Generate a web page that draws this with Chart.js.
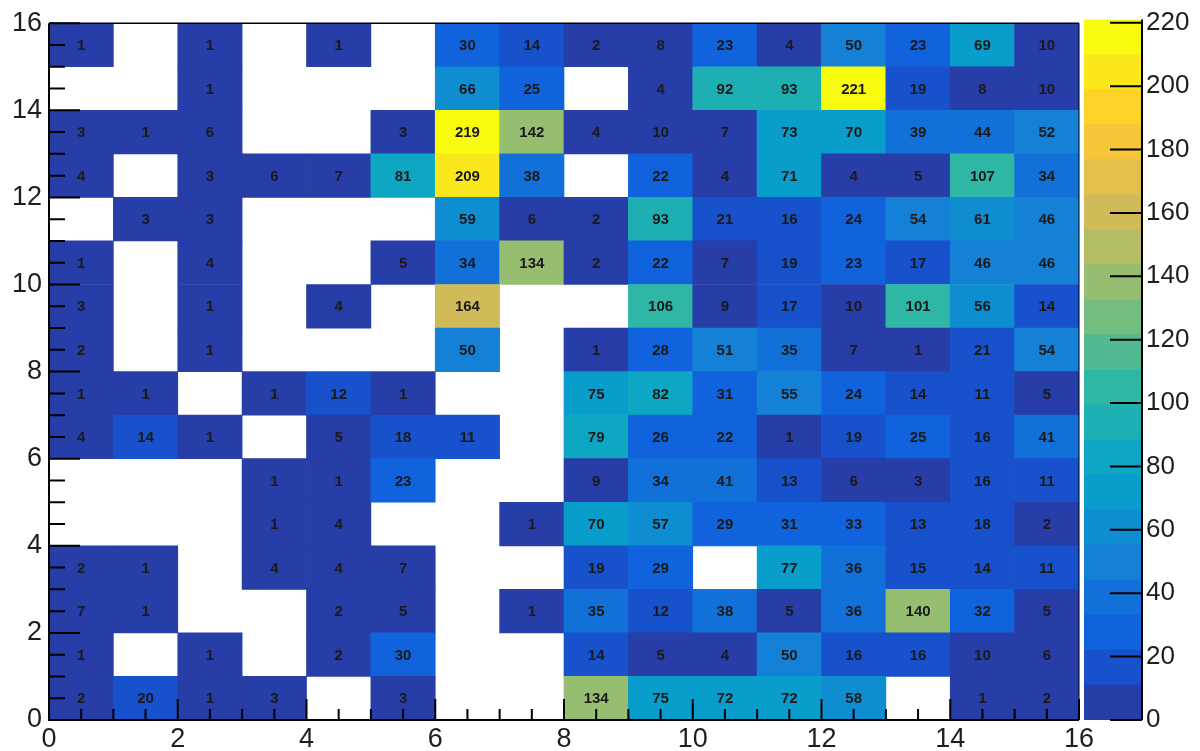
<!DOCTYPE html>
<html>
<head>
<meta charset="utf-8">
<script src="https://cdn.jsdelivr.net/npm/chart.js@4.4.1/dist/chart.umd.min.js"></script>
<style>
  html, body { margin: 0; padding: 0; background: #fff; }
  #main { position: absolute; left: 0; top: 0; }
  #palette { position: absolute; left: 1080px; top: 0; }
</style>
</head>
<body>
<canvas id="main" width="1200" height="751"></canvas>
<canvas id="palette" width="120" height="751"></canvas>
<script>
// bin contents of the 16x16 histogram, one array per row (rowN = y in [N, N+1)), null = empty bin
const row15 = [1, null, 1, null, 1, null, 30, 14, 2, 8, 23, 4, 50, 23, 69, 10];
const row14 = [null, null, 1, null, null, null, 66, 25, null, 4, 92, 93, 221, 19, 8, 10];
const row13 = [3, 1, 6, null, null, 3, 219, 142, 4, 10, 7, 73, 70, 39, 44, 52];
const row12 = [4, null, 3, 6, 7, 81, 209, 38, null, 22, 4, 71, 4, 5, 107, 34];
const row11 = [null, 3, 3, null, null, null, 59, 6, 2, 93, 21, 16, 24, 54, 61, 46];
const row10 = [1, null, 4, null, null, 5, 34, 134, 2, 22, 7, 19, 23, 17, 46, 46];
const row9  = [3, null, 1, null, 4, null, 164, null, null, 106, 9, 17, 10, 101, 56, 14];
const row8  = [2, null, 1, null, null, null, 50, null, 1, 28, 51, 35, 7, 1, 21, 54];
const row7  = [1, 1, null, 1, 12, 1, null, null, 75, 82, 31, 55, 24, 14, 11, 5];
const row6  = [4, 14, 1, null, 5, 18, 11, null, 79, 26, 22, 1, 19, 25, 16, 41];
const row5  = [null, null, null, 1, 1, 23, null, null, 9, 34, 41, 13, 6, 3, 16, 11];
const row4  = [null, null, null, 1, 4, null, null, 1, 70, 57, 29, 31, 33, 13, 18, 2];
const row3  = [2, 1, null, 4, 4, 7, null, null, 19, 29, null, 77, 36, 15, 14, 11];
const row2  = [7, 1, null, null, 2, 5, null, 1, 35, 12, 38, 5, 36, 140, 32, 5];
const row1  = [1, null, 1, null, 2, 30, null, null, 14, 5, 4, 50, 16, 16, 10, 6];
const row0  = [2, 20, 1, 3, null, 3, null, null, 134, 75, 72, 72, 58, null, 1, 2];
const rows = [row0, row1, row2, row3, row4, row5, row6, row7, row8, row9, row10, row11, row12, row13, row14, row15];

const xTicks = [0, 2, 4, 6, 8, 10, 12, 14, 16];
const yTicks = [0, 2, 4, 6, 8, 10, 12, 14, 16];
const zTicks = [0, 20, 40, 60, 80, 100, 120, 140, 160, 180, 200, 220];
const zMax = 221;
const nContours = 20;

// ROOT kBird palette
const birdStops = [0.0000, 0.1250, 0.2500, 0.3750, 0.5000, 0.6250, 0.7500, 0.8750, 1.0000];
const birdR = [0.2082, 0.0592, 0.0780, 0.0232, 0.1802, 0.5301, 0.8186, 0.9956, 0.9764];
const birdG = [0.1664, 0.3599, 0.5041, 0.6419, 0.7178, 0.7492, 0.7328, 0.7862, 0.9832];
const birdB = [0.5293, 0.8684, 0.8385, 0.7914, 0.6425, 0.4662, 0.3499, 0.1968, 0.0539];

function bird(f) {
  let k = 0;
  while (k < birdStops.length - 2 && f > birdStops[k + 1]) k++;
  const t = (f - birdStops[k]) / (birdStops[k + 1] - birdStops[k]);
  const c = (arr) => Math.round(255 * (arr[k] + (arr[k + 1] - arr[k]) * t));
  return `rgb(${c(birdR)},${c(birdG)},${c(birdB)})`;
}
function levelColor(level) {
  const idx = Math.min(254, Math.floor((level + 0.99) * 255 / nContours));
  return bird(idx / 254);
}
function binColor(v) {
  const level = Math.min(nContours - 1, Math.floor(0.01 + v * nContours / zMax));
  return levelColor(level);
}

Chart.defaults.font.family = '"Liberation Sans", Arial, Helvetica, sans-serif';
Chart.defaults.color = '#1e1e1e';

const cellSets = rows.map((vals, r) => {
  const pts = [];
  vals.forEach((v, c) => {
    if (v !== null) pts.push({ x: c + 0.5, y: [r, r + 1], v: v });
  });
  return {
    data: pts,
    backgroundColor: pts.map(p => binColor(p.v)),
    borderWidth: 0,
    grouped: false,
    barPercentage: 1,
    categoryPercentage: 1
  };
});

const binText = {
  id: 'binText',
  afterDatasetsDraw(chart) {
    const { ctx, scales: { x, y } } = chart;
    ctx.save();
    ctx.font = 'bold 15px "Liberation Sans", Arial, sans-serif';
    ctx.fillStyle = '#1a1a1a';
    ctx.textAlign = 'center';
    ctx.textBaseline = 'middle';
    rows.forEach((vals, r) => vals.forEach((v, c) => {
      if (v === null) return;
      ctx.fillText(String(v), x.getPixelForValue(c + 0.5), y.getPixelForValue(r + 0.5) + 1);
    }));
    ctx.restore();
  }
};

// ROOT style frame: ticks pointing inwards, secondary ticks every 0.5
const rootFrame = {
  id: 'rootFrame',
  afterDraw(chart) {
    const { ctx, chartArea: a, scales: { x, y } } = chart;
    ctx.save();
    ctx.strokeStyle = '#000';
    ctx.lineWidth = 2;
    ctx.beginPath();
    for (let v = 0; v <= 16; v += 0.5) {
      const major = v % 2 === 0;
      const px = x.getPixelForValue(v);
      ctx.moveTo(px, a.bottom);
      ctx.lineTo(px, a.bottom - (major ? 21 : 11));
      const py = y.getPixelForValue(v);
      ctx.moveTo(a.left, py);
      ctx.lineTo(a.left + (major ? 31 : 16), py);
    }
    ctx.stroke();
    ctx.beginPath();
    ctx.moveTo(a.left, a.top);
    ctx.lineTo(a.left, a.bottom);
    ctx.lineTo(a.right, a.bottom);
    ctx.stroke();
    ctx.lineWidth = 1.5;
    ctx.beginPath();
    ctx.moveTo(a.left, a.top);
    ctx.lineTo(a.right, a.top);
    ctx.stroke();
    ctx.lineWidth = 1;
    ctx.beginPath();
    ctx.moveTo(a.right, a.top);
    ctx.lineTo(a.right, a.bottom);
    ctx.stroke();
    ctx.restore();
  }
};

new Chart(document.getElementById('main'), {
  type: 'bar',
  data: { datasets: cellSets },
  options: {
    responsive: false,
    animation: false,
    events: [],
    layout: { padding: { top: 17, right: 121, left: 0, bottom: 0 } },
    plugins: { legend: { display: false }, tooltip: { enabled: false } },
    scales: {
      x: {
        type: 'linear', min: 0, max: 16, offset: false,
        grid: { display: false, drawTicks: false },
        border: { display: false },
        ticks: { padding: 3, font: { size: 27 }, maxRotation: 0, autoSkip: false },
        afterBuildTicks: s => { s.ticks = xTicks.map(v => ({ value: v })); },
        afterFit: s => { s.height = 31; }
      },
      y: {
        type: 'linear', min: 0, max: 16,
        grid: { display: false, drawTicks: false },
        border: { display: false },
        ticks: { padding: 7, font: { size: 27 }, autoSkip: false },
        afterBuildTicks: s => { s.ticks = yTicks.map(v => ({ value: v })); },
        afterFit: s => { s.width = 49; }
      }
    }
  },
  plugins: [binText, rootFrame]
});

// colour scale (palette axis)
const bandSets = [];
for (let i = 0; i < nContours; i++) {
  bandSets.push({
    data: [[i * zMax / nContours, (i + 1) * zMax / nContours]],
    backgroundColor: levelColor(i),
    borderWidth: 0,
    grouped: false,
    barPercentage: 1,
    categoryPercentage: 1
  });
}

const paletteAxis = {
  id: 'paletteAxis',
  afterDraw(chart) {
    const { ctx, chartArea: a, scales: { y } } = chart;
    ctx.save();
    ctx.strokeStyle = '#000';
    ctx.lineWidth = 2;
    ctx.beginPath();
    ctx.moveTo(a.right, a.top);
    ctx.lineTo(a.right, a.bottom);
    y.ticks.forEach(t => {
      const py = y.getPixelForValue(t.value);
      ctx.moveTo(a.right, py);
      ctx.lineTo(a.right - 32, py);
    });
    ctx.stroke();
    ctx.restore();
  }
};

new Chart(document.getElementById('palette'), {
  type: 'bar',
  data: { labels: [''], datasets: bandSets },
  options: {
    responsive: false,
    animation: false,
    events: [],
    layout: { padding: { top: 17, right: 0, left: 4, bottom: 31 } },
    plugins: { legend: { display: false }, tooltip: { enabled: false } },
    scales: {
      x: { display: false },
      y: {
        position: 'right', min: 0, max: zMax,
        grid: { display: false, drawTicks: false },
        border: { display: false },
        ticks: { padding: 4, font: { size: 26 }, autoSkip: false },
        afterBuildTicks: s => { s.ticks = zTicks.map(v => ({ value: v })); },
        afterFit: s => { s.width = 58; }
      }
    }
  },
  plugins: [paletteAxis]
});
</script>
</body>
</html>
